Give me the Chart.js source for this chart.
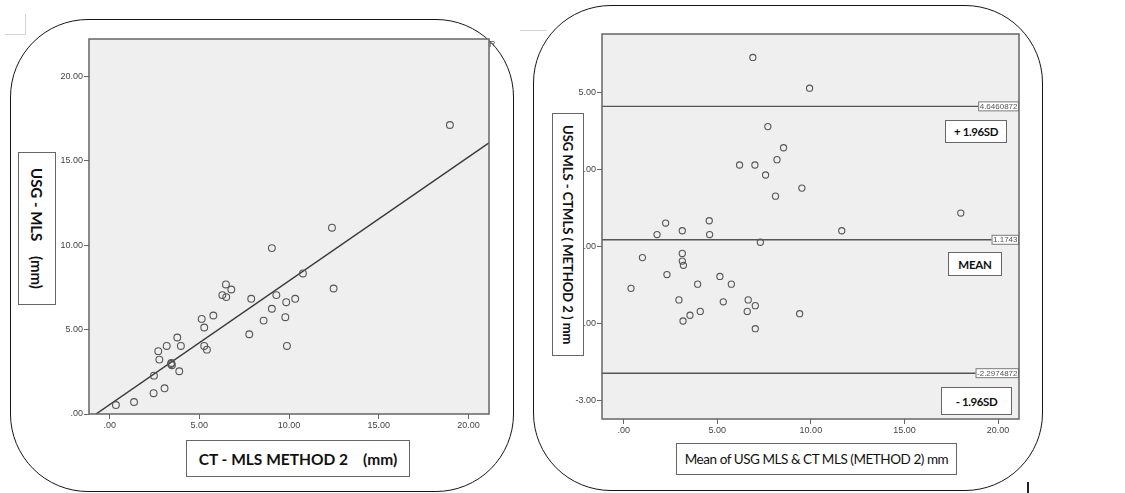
<!DOCTYPE html>
<html>
<head>
<meta charset="utf-8">
<script src="https://cdn.jsdelivr.net/npm/chart.js@4.4.1/dist/chart.umd.min.js"></script>
<style>
  body { margin: 0; width: 1125px; height: 493px; background: #fff; position: relative; overflow: hidden; font-family: Lato, "Open Sans", sans-serif; }
  .panel { position: absolute; border: 1.6px solid #151515; border-radius: 78px; box-sizing: border-box; }
  .wrap { position: absolute; }
  .box { position: absolute; box-sizing: border-box; background: #fff; border: 1px solid #666; display: flex; align-items: center; justify-content: center; color: #111; white-space: pre; }
  .vert { writing-mode: vertical-rl; }
  .b { font-weight: bold; }
  .mark { position: absolute; background: #d4d4d4; }
</style>
</head>
<body>

<!-- cornici arrotondate -->
<div class="panel" style="left:10px;top:19px;width:504px;height:473px"></div>
<div class="panel" style="left:533px;top:5px;width:510px;height:486px"></div>

<div class="mark" style="left:5px;top:34px;width:21px;height:1px"></div>
<div class="mark" style="left:25px;top:14px;width:1px;height:21px"></div>
<div class="mark" style="left:520px;top:30px;width:27px;height:1px"></div>
<div class="mark" style="left:1027px;top:482px;width:1.5px;height:11px;background:#222"></div>

<div class="wrap" style="left:20px;top:30px"><canvas id="chart-sx" width="480" height="420"></canvas></div>
<div class="wrap" style="left:540px;top:25px"><canvas id="chart-dx" width="490" height="420"></canvas></div>

<div style="position:absolute;left:489px;top:39px;font:9px 'Liberation Sans';color:#555">R</div>

<!-- titoli assi -->
<div class="box b vert" style="left:18px;top:152px;width:38px;height:153px;font-size:15px">USG - MLS    (mm)</div>
<div class="box b" style="left:186px;top:440px;width:224px;height:37px;font-size:15.5px">CT - MLS METHOD 2    (mm)</div>
<div class="box b vert" style="left:552px;top:113px;width:32px;height:243px;font-size:13px">USG MLS - CTMLS ( METHOD 2 ) mm</div>
<div class="box" style="left:676px;top:443px;width:281px;height:32px;font-size:13.5px;letter-spacing:-0.45px">Mean of USG MLS &amp; CT MLS (METHOD 2) mm</div>

<!-- etichette limiti -->
<div class="box b" style="left:945px;top:120px;width:62px;height:23px;font-size:11.5px;letter-spacing:-0.4px">+ 1.96SD</div>
<div class="box b" style="left:948px;top:252px;width:54px;height:24px;font-size:11.5px;letter-spacing:-0.2px">MEAN</div>
<div class="box b" style="left:941px;top:387px;width:71px;height:28px;font-size:11.5px;letter-spacing:-0.4px">- 1.96SD</div>

<script>
/* ============================
   DATI
============================ */

// grafico sinistro: CT vs USG
const ctMls = [0.35, 1.36, 2.45, 2.47, 3.06, 2.71, 2.77, 3.18, 3.44, 3.47, 3.42, 3.77, 3.97, 3.88,
  5.13, 5.27, 5.27, 5.42, 5.78, 6.28, 6.50, 6.48, 6.78, 7.78, 7.89, 8.58, 9.04, 9.04, 9.29,
  9.79, 9.84, 9.88, 10.34, 10.77, 12.39, 12.48, 18.96];
const usgMls = [0.53, 0.71, 1.23, 2.27, 1.52, 3.72, 3.22, 4.03, 3.02, 2.89, 2.96, 4.53, 4.03, 2.53,
  5.63, 5.12, 4.03, 3.81, 5.83, 7.04, 6.92, 7.67, 7.37, 4.72, 6.82, 5.53, 9.82, 6.23, 7.04,
  5.73, 6.62, 4.03, 6.82, 8.32, 11.03, 7.43, 17.11];
const fitLine = [{ x: -0.76, y: 0 }, { x: 21.14, y: 16.05 }];

// grafico destro: Bland-Altman
const meanMls = [6.90, 9.93, 7.70, 8.54, 8.19, 6.19, 7.01, 7.58, 9.52, 8.11, 18.01, 2.24, 4.57,
  1.78, 3.13, 4.59, 11.65, 7.30, 1.00, 3.13, 3.13, 3.19, 2.31, 0.39, 5.14, 3.95, 5.75, 2.95,
  5.32, 6.65, 7.03, 6.60, 4.09, 3.54, 3.17, 7.03, 9.40];
const diffMls = [5.92, 5.12, 4.12, 3.57, 3.26, 3.12, 3.12, 2.86, 2.52, 2.31, 1.87, 1.61, 1.67,
  1.31, 1.41, 1.31, 1.41, 1.11, 0.71, 0.82, 0.62, 0.51, 0.27, -0.09, 0.22, 0.02, 0.02, -0.39,
  -0.44, -0.39, -0.54, -0.69, -0.69, -0.79, -0.94, -1.14, -0.75];
const limiti = [4.6460872, 1.1743, -2.2974872];
const limitiLabel = ['4.6460872', '1.1743', '-2.2974872'];

// assi
const xTicks = [0, 5, 10, 15, 20];
const yTicksSx = [0, 5, 10, 15, 20];
const yTicksDx = [-3, -1, 1, 3, 5];
const xRangeSx = [-1.15, 21.14];
const yRangeSx = [0, 22.2];
const xRangeDx = [-1.16, 21.12];
const yRangeDx = [-3.49, 6.53];

/* ============================
   UTILITA
============================ */

function fmt(v) {
  let s = Number(v).toFixed(2);
  if (s.startsWith('0')) s = s.slice(1);
  return s;
}

const tickFont = { family: 'Liberation Sans', size: 9 };
const tickColor = '#444';

function asse(range, ticks, extra) {
  return Object.assign({
    type: 'linear',
    min: range[0],
    max: range[1],
    afterBuildTicks: s => { s.ticks = ticks.map(v => ({ value: v })); },
    ticks: { font: tickFont, color: tickColor, padding: 1, callback: v => fmt(v), maxRotation: 0 },
    grid: { drawOnChartArea: false, drawTicks: true, tickLength: 5, color: '#666' },
    border: { display: false }
  }, extra);
}

const sfondo = {
  id: 'sfondo',
  beforeDraw(chart) {
    const a = chart.chartArea, c = chart.ctx;
    c.save();
    c.fillStyle = '#efefef';
    c.fillRect(a.left, a.top, a.width, a.height);
    c.restore();
  },
  afterDraw(chart) {
    const a = chart.chartArea, c = chart.ctx;
    c.save();
    c.strokeStyle = '#666';
    c.lineWidth = 1.5;
    c.strokeRect(a.left, a.top, a.width, a.height);
    c.restore();
  }
};

const puntiStile = {
  type: 'scatter',
  pointStyle: 'circle',
  pointRadius: 3.4,
  pointHoverRadius: 3.4,
  borderWidth: 1.1,
  borderColor: '#555',
  backgroundColor: 'rgba(0,0,0,0)'
};

/* ============================
   GRAFICO SINISTRO
============================ */

new Chart(document.getElementById('chart-sx'), {
  data: {
    datasets: [
      Object.assign({ data: ctMls.map((x, i) => ({ x, y: usgMls[i] })) }, puntiStile),
      { type: 'line', data: fitLine, borderColor: '#3a3a3a', borderWidth: 1.5, pointRadius: 0, fill: false }
    ]
  },
  options: {
    responsive: false,
    animation: false,
    layout: { padding: { top: 9, right: 11, left: 0, bottom: 0 } },
    plugins: { legend: { display: false }, tooltip: { enabled: false } },
    scales: {
      x: asse(xRangeSx, xTicks, { afterFit: s => { s.height = 36; } }),
      y: asse(yRangeSx, yTicksSx, { afterFit: s => { s.width = 69; } })
    }
  },
  plugins: [sfondo]
});

/* ============================
   GRAFICO DESTRO
============================ */

const etichetteLimiti = {
  id: 'etichetteLimiti',
  afterDatasetsDraw(chart) {
    const a = chart.chartArea, c = chart.ctx, y = chart.scales.y;
    c.save();
    c.font = "8px 'Liberation Sans'";
    c.textBaseline = 'middle';
    limiti.forEach((v, i) => {
      const py = y.getPixelForValue(v);
      const w = c.measureText(limitiLabel[i]).width + 3;
      c.fillStyle = '#fff';
      c.fillRect(a.right - w, py - 5, w, 10);
      c.strokeStyle = '#777';
      c.lineWidth = 1;
      c.strokeRect(a.right - w + 0.5, py - 4.5, w - 1, 9);
      c.fillStyle = '#555';
      c.fillText(limitiLabel[i], a.right - w + 1.5, py + 0.5);
    });
    c.restore();
  }
};

const lineeLimiti = limiti.map(v => ({
  type: 'line',
  data: [{ x: xRangeDx[0], y: v }, { x: xRangeDx[1], y: v }],
  borderColor: '#555',
  borderWidth: 1.4,
  pointRadius: 0,
  fill: false
}));

new Chart(document.getElementById('chart-dx'), {
  data: {
    datasets: [
      Object.assign({ data: meanMls.map((x, i) => ({ x, y: diffMls[i] })) }, puntiStile, { pointRadius: 3.1 }),
      ...lineeLimiti
    ]
  },
  options: {
    responsive: false,
    animation: false,
    layout: { padding: { top: 9, right: 11, left: 0, bottom: 0 } },
    plugins: { legend: { display: false }, tooltip: { enabled: false } },
    scales: {
      x: asse(xRangeDx, xTicks, { afterFit: s => { s.height = 26; } }),
      y: asse(yRangeDx, yTicksDx, { afterFit: s => { s.width = 62; } })
    }
  },
  plugins: [sfondo, etichetteLimiti]
});
</script>
</body>
</html>
